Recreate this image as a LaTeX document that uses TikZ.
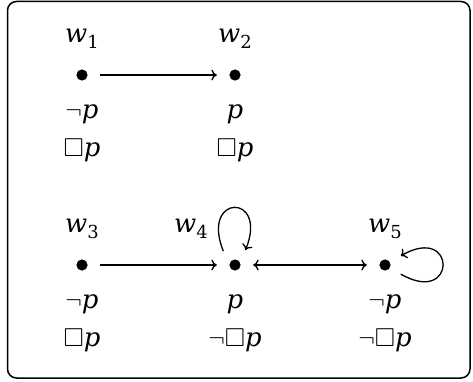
\documentclass[tikz,border=0pt]{standalone}
\usepackage{amssymb}
\usepackage{fontspec}
\setmainfont{DejaVu Serif}
\usetikzlibrary{arrows.meta}
\newcommand\wsub[1]{\textit{w}\raisebox{-6bp}{\fontsize{18}{18}\selectfont #1}}
\begin{document}
\begin{tikzpicture}[x=1bp,y=1bp,
  world/.style={circle,minimum size=36bp,inner sep=0pt,
    path picture={\fill (path picture bounding box.center) circle (5.6bp);}},
  lbl/.style={anchor=base,inner sep=0pt,font=\fontsize{26}{31}\selectfont},
  rel/.style={line width=1.3bp,-{To[length=5.5bp,width=11bp]}},
  birel/.style={line width=1.3bp,{To[length=5.5bp,width=11bp]}-{To[length=5.5bp,width=11bp]}},
  frame/.style={line width=1.5bp,rounded corners=9bp}]
\useasboundingbox (0,0) rectangle (473,381);
\draw[frame] (7.5,3) rectangle (470,379.5);
% worlds
\node[world] (w1) at (82,306) {};
\node[world] (w2) at (235,306) {};
\node[world] (w3) at (82,116) {};
\node[world] (w4) at (235,116) {};
\node[world] (w5) at (385,116) {};
% labels top row
\node[lbl] (l1) at (82,339) {\wsub{1}};
\node[lbl] (l2) at (235,339) {\wsub{2}};
\node[lbl] (a1) at (82,263) {$\neg$\textit{p}};
\node[lbl] (a2) at (235,263) {\textit{p}};
\node[lbl] (b1) at (82,225) {$\Box$\textit{p}};
\node[lbl] (b2) at (235,225) {$\Box$\textit{p}};
% labels bottom row
\node[lbl] (l3) at (82,149) {\wsub{3}};
\node[lbl] (l4) at (191,149) {\wsub{4}};
\node[lbl] (l5) at (385,149) {\wsub{5}};
\node[lbl] (a3) at (82,73) {$\neg$\textit{p}};
\node[lbl] (a4) at (235,73) {\textit{p}};
\node[lbl] (a5) at (385,73) {$\neg$\textit{p}};
\node[lbl] (b3) at (82,35) {$\Box$\textit{p}};
\node[lbl] (b4) at (235,35) {$\neg\Box$\textit{p}};
\node[lbl] (b5) at (385,35) {$\neg\Box$\textit{p}};
% relations
\draw[rel] (w1) -- (w2);
\draw[rel] (w3) -- (w4);
\draw[birel] (w4) -- (w5);
\draw[rel] (w4.130) .. controls +(112:62) and +(68:62) .. (w4.55);
\draw[rel] (w5.-30) .. controls +(-30:65) and +(30:65) .. (w5.30);
\end{tikzpicture}
\end{document}
